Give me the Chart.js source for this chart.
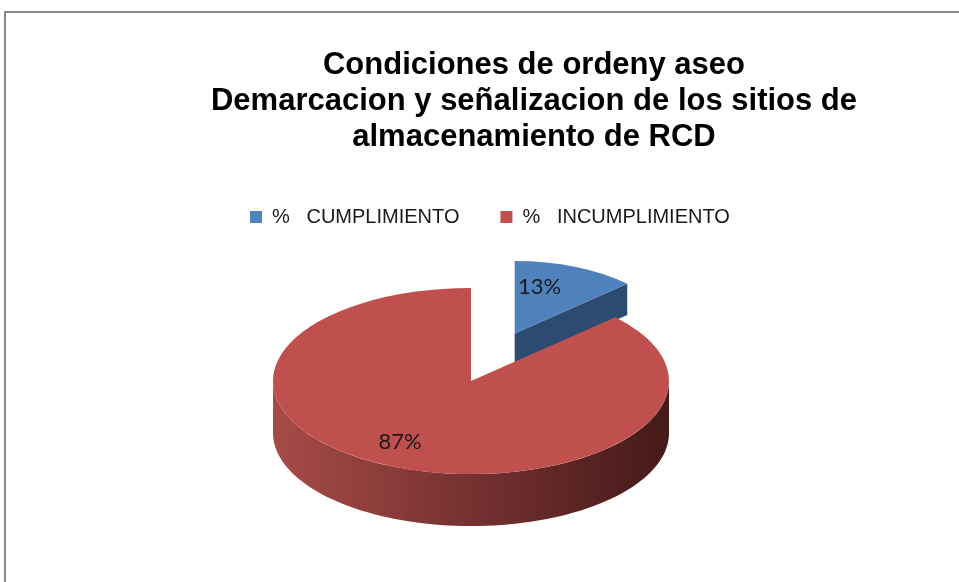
<!DOCTYPE html>
<html>
<head>
<meta charset="utf-8">
<script src="https://cdn.jsdelivr.net/npm/chart.js@4.4.1/dist/chart.umd.min.js"></script>
<style>
html, body { margin: 0; padding: 0; background: #fff; overflow: hidden; }
#frame { position: absolute; left: 4px; top: 11px; width: 1200px; height: 800px;
         border-left: 2px solid #888; border-top: 2px solid #888; }
canvas { position: absolute; left: 0; top: 0; }
</style>
</head>
<body>
<div id="frame"></div>
<canvas id="chart" width="959" height="582"></canvas>
<script>
const titleLines = [
    'Condiciones de ordeny aseo',
    'Demarcacion y señalizacion de los sitios de',
    'almacenamiento de RCD'
]
const categories = ['%   CUMPLIMIENTO', '%   INCUMPLIMIENTO']
const values = [13, 87]
const valueLabels = ['13%', '87%']

const topColors = ['#4F81BD', '#C0504D']
const sideColors = ['#2D4B71', '#8C3A37']

// fake 3d: squash the pie, pull slices out and draw walls under them
const pie3d = {
    id: 'pie3d',
    beforeDatasetsDraw(chart, args, opts) {
        const ctx = chart.ctx
        const arcs = chart.getDatasetMeta(0).data
        const s = opts.squash
        const cx = opts.cx, cy = opts.cy
        const pt = (r, a, ox, oy) => [cx + ox + r * Math.cos(a), cy + (oy + r * Math.sin(a)) * s]

        ctx.save()
        arcs.forEach((arc, i) => {
            const mid = (arc.startAngle + arc.endAngle) / 2
            const e = opts.explode[i]
            const ox = Math.cos(mid) * e, oy = Math.sin(mid) * e
            const R = arc.outerRadius * opts.shrink[i]
            const depth = opts.depth * opts.depthScale[i]

            // radial cut faces that look at the viewer
            const faces = []
            if (Math.cos(arc.endAngle) > 0.01) faces.push(arc.endAngle)
            if (Math.cos(arc.startAngle) < -0.01) faces.push(arc.startAngle)
            faces.forEach(a => {
                const p0 = pt(0, a, ox, oy), p1 = pt(R, a, ox, oy)
                ctx.beginPath()
                ctx.moveTo(p0[0], p0[1])
                ctx.lineTo(p1[0], p1[1])
                ctx.lineTo(p1[0], p1[1] + depth)
                ctx.lineTo(p0[0], p0[1] + depth)
                ctx.closePath()
                ctx.fillStyle = sideColors[i]
                ctx.fill()
            })

            // outer wall, front half only
            for (let k = -1; k <= 1; k++) {
                const a0 = Math.max(arc.startAngle, 2 * Math.PI * k)
                const a1 = Math.min(arc.endAngle, 2 * Math.PI * k + Math.PI)
                if (a1 <= a0) continue
                const n = 80
                ctx.beginPath()
                for (let j = 0; j <= n; j++) {
                    const p = pt(R, a0 + (a1 - a0) * j / n, ox, oy)
                    ctx.lineTo(p[0], p[1])
                }
                for (let j = n; j >= 0; j--) {
                    const p = pt(R, a0 + (a1 - a0) * j / n, ox, oy)
                    ctx.lineTo(p[0], p[1] + depth)
                }
                ctx.closePath()
                const g = ctx.createLinearGradient(cx + ox - R, 0, cx + ox + R, 0)
                if (i === 1) {
                    g.addColorStop(0, '#A84B47')
                    g.addColorStop(0.5, '#753130')
                    g.addColorStop(1, '#451A19')
                } else {
                    g.addColorStop(0, '#3A6094')
                    g.addColorStop(1, '#223A58')
                }
                ctx.fillStyle = g
                ctx.fill()
            }

            // top face: let the element draw itself, moved out and shrunk
            if (!arc._pie3d) {
                const base = arc.draw
                arc.draw = function (c, area) {
                    const m = (this.startAngle + this.endAngle) / 2
                    const k = opts.shrink[i]
                    c.save()
                    c.translate(this.x + Math.cos(m) * opts.explode[i], this.y + Math.sin(m) * opts.explode[i])
                    c.scale(k, k)
                    c.translate(-this.x, -this.y)
                    base.call(this, c, area)
                    c.restore()
                }
                arc._pie3d = true
            }
        })
        ctx.restore()

        const a = arcs[0]
        ctx.save()
        ctx.translate(cx, cy)
        ctx.scale(1, s)
        ctx.translate(-a.x, -a.y)
    },
    afterDatasetsDraw(chart, args, opts) {
        const ctx = chart.ctx
        ctx.restore()
        const arcs = chart.getDatasetMeta(0).data
        ctx.save()
        ctx.font = opts.labelFont
        ctx.fillStyle = '#1a1a1a'
        ctx.textAlign = 'center'
        ctx.textBaseline = 'middle'
        arcs.forEach((arc, i) => {
            const mid = (arc.startAngle + arc.endAngle) / 2
            const r = opts.explode[i] + opts.labelRadius[i] * arc.outerRadius * opts.shrink[i]
            const x = opts.cx + r * Math.cos(mid) + opts.nudge[i][0]
            const y = opts.cy + r * Math.sin(mid) * opts.squash + opts.nudge[i][1]
            ctx.fillText(valueLabels[i], x, y)
        })
        ctx.restore()
    }
}

new Chart(document.getElementById('chart'), {
    type: 'pie',
    data: {
        labels: categories,
        datasets: [{
            data: values,
            backgroundColor: topColors,
            borderWidth: 0,
            radius: 198,
            clip: false
        }]
    },
    options: {
        responsive: false,
        animation: false,
        events: [],
        layout: { padding: { left: 209, right: 100, top: 0, bottom: 0 } },
        plugins: {
            title: {
                display: true,
                text: titleLines,
                color: '#000',
                font: { family: 'Liberation Sans', size: 31, weight: 'bold', lineHeight: 36 / 31 },
                padding: { top: 47, bottom: 11 }
            },
            legend: {
                position: 'top',
                align: 'start',
                labels: {
                    boxWidth: 12,
                    boxHeight: 12,
                    padding: 41,
                    color: '#1a1a1a',
                    font: { family: 'Liberation Sans', size: 20 }
                }
            },
            tooltip: { enabled: false },
            pie3d: {
                cx: 471, cy: 381, squash: 0.47, depth: 52,
                explode: [110, 0],
                shrink: [0.78, 1],
                depthScale: [0.6, 1],
                labelFont: '22px Lato',
                labelRadius: [0.7, 0.75],
                nudge: [[-18, 0], [-12, -3]]
            }
        }
    },
    plugins: [pie3d]
})
</script>
</body>
</html>
